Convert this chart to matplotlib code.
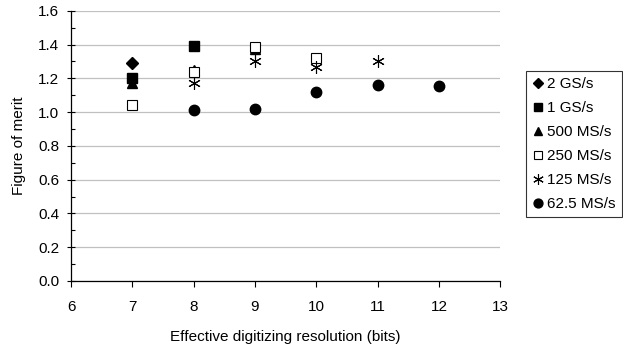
import matplotlib
matplotlib.use('Agg')
import matplotlib.pyplot as plt
from matplotlib.ticker import MultipleLocator

plt.rcParams['font.family'] = ['Liberation Sans', 'DejaVu Sans']

# data
labels = ['2 GS/s', '1 GS/s', '500 MS/s', '250 MS/s', '125 MS/s', '62.5 MS/s']
x_2g = [7]
y_2g = [1.29]
x_1g = [7, 8]
y_1g = [1.20, 1.39]
x_500m = [7, 8, 9]
y_500m = [1.17, 1.25, 1.375]
x_250m = [7, 8, 9, 10]
y_250m = [1.04, 1.235, 1.385, 1.32]
x_125m = [8, 9, 10, 11]
y_125m = [1.17, 1.30, 1.27, 1.30]
x_62m = [8, 9, 10, 11, 12]
y_62m = [1.01, 1.02, 1.12, 1.16, 1.155]

fs = 11

fig = plt.figure(figsize=(6.23, 3.49), dpi=100)
ax = fig.add_axes([0.114, 0.195, 0.689, 0.774])

kw = dict(linestyle='none', color='black')
ax.plot(x_2g, y_2g, marker='D', markersize=6, label=labels[0], **kw)
ax.plot(x_1g, y_1g, marker='s', markersize=7, label=labels[1], **kw)
ax.plot(x_500m, y_500m, marker='^', markersize=7.5, label=labels[2], **kw)
ax.plot(x_250m, y_250m, marker='s', markersize=7, markerfacecolor='white',
        markeredgewidth=0.8, label=labels[3], **kw)
ax.plot(x_125m, y_125m, marker=(6, 2, 0), markersize=9, markeredgewidth=0.8,
        label=labels[4], **kw)
ax.plot(x_62m, y_62m, marker='o', markersize=7.5, label=labels[5], **kw)

ax.set_xlim(6, 13)
ax.set_ylim(0, 1.6)
ax.xaxis.set_major_locator(MultipleLocator(1))
ax.yaxis.set_major_locator(MultipleLocator(0.2))
ax.yaxis.set_minor_locator(MultipleLocator(0.1))
ax.yaxis.set_major_formatter(plt.FormatStrFormatter('%.1f'))
ax.grid(axis='y', which='major', color='#c0c0c0', linewidth=0.9)
ax.set_axisbelow(True)

for s in ['top', 'right']:
    ax.spines[s].set_visible(False)
for s in ['left', 'bottom']:
    ax.spines[s].set_linewidth(0.9)

ax.tick_params(axis='x', which='major', direction='out', length=4,
               labelsize=fs, pad=10, width=0.8)
ax.tick_params(axis='y', which='major', direction='inout', length=6,
               labelsize=fs, pad=5.5, width=0.8)
ax.tick_params(axis='y', which='minor', direction='in', length=3, width=0.8)

ax.set_xlabel('Effective digitizing resolution (bits)', fontsize=fs, labelpad=11)
ax.set_ylabel('Figure of merit', fontsize=fs, labelpad=9)

leg = fig.legend(loc='upper left', bbox_to_anchor=(0.845, 0.797),
                 fontsize=fs, frameon=True, fancybox=False,
                 edgecolor='black', markerscale=0.85, handlelength=0.7,
                 handletextpad=0.25, borderpad=0.4, labelspacing=0.66,
                 borderaxespad=0)
leg.get_frame().set_linewidth(0.8)

fig.savefig('out.png', dpi=100)
